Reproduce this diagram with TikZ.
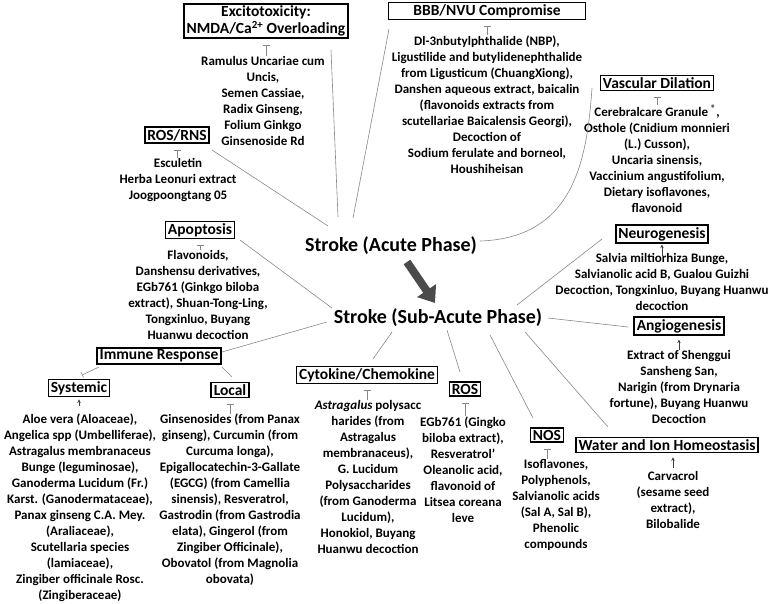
\documentclass[tikz,border=0pt]{standalone}
\usepackage{fontspec}
\setmainfont{Carlito}
\usetikzlibrary{arrows.meta}
\definecolor{linegray}{RGB}{135,135,135}
\definecolor{arrowgray}{RGB}{75,75,75}
\begin{document}
\begin{tikzpicture}[x=1pt,y=-1pt,
  txt/.style={font=\fontsize{13}{16}\selectfont\bfseries, align=center, inner sep=0pt},
  bx/.style={draw, line width=1.6pt, font=\fontsize{15.5}{17}\selectfont\bfseries, align=center, inner xsep=2.5pt, inner ysep=2pt},
  phase/.style={font=\fontsize{20}{24}\selectfont\bfseries, inner sep=0pt},
  conn/.style={draw=linegray, line width=0.6pt},
  inh/.style={draw=linegray, line width=0.6pt, -{Bar[width=7pt,line width=0.6pt]}, shorten >=6pt},
  act/.style={draw=black!75, line width=0.6pt, -{Stealth[length=3.5pt,width=3.5pt]}},
  big/.style={draw=arrowgray, line width=8pt, -{Triangle[length=15pt,width=22pt]}}
]
\useasboundingbox (0,0) rectangle (779,603);

% phases
\node[phase] (acute) at (391,246) {Stroke (Acute Phase)};
\node[phase] (sub) at (438,318) {Stroke (Sub-Acute Phase)};

% boxes
\node[bx] (exc) at (266,21) {Excitotoxicity:\\NMDA/Ca\textsuperscript{2+} Overloading};
\node[bx, minimum width=197pt] (bbb) at (487,11) {BBB/NVU Compromise};
\node[bx] (vasc) at (657,83) {Vascular Dilation};
\node[bx] (rosrns) at (177,135) {ROS/RNS};
\node[bx] (apop) at (200,230) {Apoptosis};
\node[bx] (neuro) at (662,234) {Neurogenesis};
\node[bx] (angio) at (679,326) {Angiogenesis};
\node[bx] (imm) at (159,356) {Immune Response};
\node[bx] (sys) at (79,388) {Systemic};
\node[bx] (loc) at (230,390) {Local};
\node[bx] (cyt) at (367,375) {Cytokine/Chemokine};
\node[bx] (ros) at (465,389) {ROS};
\node[bx] (nos) at (547,435) {NOS};
\node[bx] (water) at (667,445) {Water and Ion Homeostasis};

% texts
\node[txt] (texc) at (263,100.5) {Ramulus Uncariae cum\\Uncis,\\Semen Cassiae,\\Radix Ginseng,\\Folium Ginkgo\\Ginsenoside Rd};
\node[txt] (trosrns) at (178,180) {Esculetin\\Herba Leonuri extract\\Joogpoongtang 05};
\node[txt] (tbbb) at (487,104.5) {Dl-3nbutylphthalide (NBP),\\Ligustilide and butylidenephthalide\\from Ligusticum (ChuangXiong),\\Danshen aqueous extract, baicalin\\(flavonoids extracts from\\scutellariae Baicalensis Georgi),\\Decoction of\\Sodium ferulate and borneol,\\Houshiheisan};
\node[txt] (tvasc) at (657,159) {Cerebralcare Granule \textsuperscript{\textregistered},\\Osthole (Cnidium monnieri\\(L.) Cusson),\\Uncaria sinensis,\\Vaccinium angustifolium,\\Dietary isoflavones,\\flavonoid};
\node[txt] (tneuro) at (662,281.5) {Salvia miltiorhiza Bunge,\\Salvianolic acid B, Gualou Guizhi\\Decoction, Tongxinluo, Buyang Huanwu\\decoction};
\node[txt] (tangio) at (679,386.5) {Extract of Shenggui\\Sansheng San,\\Narigin (from Drynaria\\fortune), Buyang Huanwu\\Decoction};
\node[txt] (twater) at (673,499.5) {Carvacrol\\(sesame seed\\extract),\\Bilobalide};
\node[txt] (tnos) at (556,504.5) {Isoflavones,\\Polyphenols,\\Salvianolic acids\\(Sal A, Sal B),\\Phenolic\\compounds};
\node[txt] (tros) at (463,469.5) {EGb761 (Gingko\\biloba extract),\\Resveratrol’\\Oleanolic acid,\\flavonoid of\\Litsea coreana\\leve};
\node[txt] (tcyt) at (368,476.5) {\textit{Astragalus} polysacc\\harides (from\\Astragalus\\membranaceus),\\G. Lucidum\\Polysaccharides\\(from Ganoderma\\Lucidum),\\Honokiol, Buyang\\Huanwu decoction};
\node[txt] (tapop) at (198,294.5) {Flavonoids,\\Danshensu derivatives,\\EGb761 (Ginkgo biloba\\extract), Shuan-Tong-Ling,\\Tongxinluo, Buyang\\Huanwu decoction};
\node[txt] (tsys) at (80,508) {Aloe vera (Aloaceae),\\Angelica spp (Umbelliferae),\\Astragalus membranaceus\\Bunge (leguminosae),\\Ganoderma Lucidum (Fr.)\\Karst. (Ganodermataceae),\\Panax ginseng C.A. Mey.\\(Araliaceae),\\Scutellaria species\\(lamiaceae),\\Zingiber officinale Rosc.\\(Zingiberaceae)};
\node[txt] (tloc) at (230,500) {Ginsenosides (from Panax\\ginseng), Curcumin (from\\Curcuma longa),\\Epigallocatechin-3-Gallate\\(EGCG) (from Camellia\\sinensis), Resveratrol,\\Gastrodin (from Gastrodia\\elata), Gingerol (from\\Zingiber Officinale),\\Obovatol (from Magnolia\\obovata)};

% inhibition marks
\draw[inh] (exc.south |- texc.north) -- (exc.south);
\draw[inh] (rosrns.south |- trosrns.north) -- (rosrns.south);
\draw[inh] (bbb.south |- tbbb.north) -- (bbb.south);
\draw[inh] (vasc.south |- tvasc.north) -- (vasc.south);
\draw[inh] (nos.south |- tnos.north) -- (nos.south);
\draw[inh] (ros.south |- tros.north) -- (ros.south);
\draw[inh] (cyt.south |- tcyt.north) -- (cyt.south);
\draw[inh] (apop.south |- tapop.north) -- (apop.south);
\draw[inh] (loc.south |- tloc.north) -- (loc.south);

% activation marks
\draw[act, shorten <=-3pt, shorten >=1pt] (neuro.south |- tneuro.north) -- (neuro.south);
\draw[act, shorten >=4pt] (angio.south |- tangio.north) -- (angio.south);
\draw[act, shorten <=3pt, shorten >=4pt] (twater.north) -- (twater.north |- water.south);
\draw[act, shorten <=8pt, shorten >=2pt] (sys.south |- tsys.north) -- (sys.south);

% connectors to acute phase
\draw[conn] ([shift={(65,29)}]exc.center) -- ([shift={(-53,-29)}]acute.center);
\draw[conn] ([shift={(-98,18)}]bbb.center) -- ([shift={(-38,-28)}]acute.center);
\draw[conn] ([shift={(35,15)}]rosrns.center) -- ([shift={(-63,-20)}]acute.center);
\draw[conn] ([shift={(89,-5)}]acute.center) .. controls +(95,-3) and +(-5,70) .. ([shift={(-65,5)}]vasc.center);

% big arrow
\draw[big] ([shift={(16,16)}]acute.center) -- ([shift={(-3,-15)}]sub.center);

% connectors from sub-acute phase
\draw[conn] ([shift={(40,10)}]apop.center) -- ([shift={(-106,-10)}]sub.center);
\draw[conn] ([shift={(63,-4)}]imm.center) -- ([shift={(-111,4)}]sub.center);
\draw[conn, -{Bar[width=6pt,line width=0.6pt]}] ([shift={(-60,11)}]imm.center) -- ([shift={(3,-13)}]sys.center);
\draw[conn] ([shift={(63,11)}]imm.center) -- ([shift={(2,-13)}]loc.center);
\draw[conn] ([shift={(-46,14)}]sub.center) -- ([shift={(6,-16)}]cyt.center);
\draw[conn] ([shift={(9,12)}]sub.center) -- ([shift={(-5,-17)}]ros.center);
\draw[conn] ([shift={(52,17)}]sub.center) -- ([shift={(-14,-17)}]nos.center);
\draw[conn] ([shift={(87,14)}]sub.center) -- ([shift={(-59,-18)}]water.center);
\draw[conn] ([shift={(110,0)}]sub.center) -- ([shift={(-51,1)}]angio.center);
\draw[conn] ([shift={(79,-13)}]sub.center) -- ([shift={(-60,5)}]neuro.center);
\end{tikzpicture}
\end{document}
